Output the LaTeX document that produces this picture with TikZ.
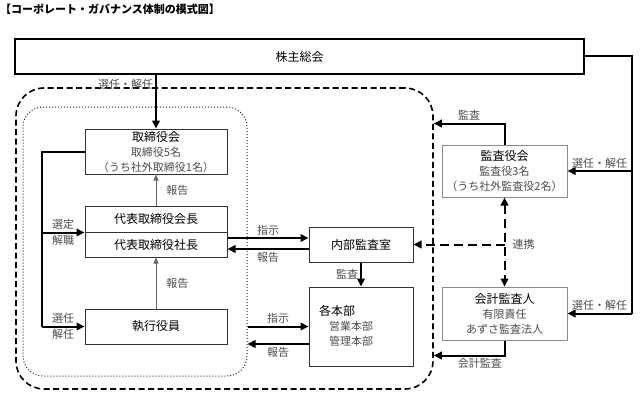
\documentclass[tikz,border=0pt]{standalone}
\usepackage{fontspec}
\setmainfont{Noto Sans CJK JP}
\usetikzlibrary{arrows.meta}
\newcommand{\minor}[1]{{\fontsize{11}{15}\selectfont\color{black!70}#1}}

\begin{document}
\begin{tikzpicture}[
        x=1pt, y=-1pt,
        every node/.style={font=\fontsize{12}{15}\selectfont},
        unit/.style={rectangle, draw=black!80, line width=1pt, fill=white, minimum width=142pt, inner sep=0pt, align=center},
        auditbox/.style={unit, draw=black!45, minimum width=125pt},
        firmline/.style={rectangle, draw=black, line width=1.6pt, dash pattern=on 6pt off 3.5pt, rounded corners=28pt, inner sep=0pt},
        boardline/.style={rectangle, draw=black!85, line width=1pt, dash pattern=on 1pt off 2pt, rounded corners=20pt, inner sep=0pt},
        lbl/.style={text=black!70, inner sep=2pt, font=\fontsize{11}{14}\selectfont},
        arrow/.style={-{Triangle[length=8pt,width=7.5pt]}, line width=2pt, draw=black},
        thinarrow/.style={-{Triangle[length=6pt,width=5pt]}, line width=0.7pt, draw=black!60},
        link/.style={{Triangle[length=8pt,width=7.5pt]}-{Triangle[length=8pt,width=7.5pt]}, line width=2pt, dash pattern=on 9pt off 5pt}
        ]

        \useasboundingbox (0, 0) rectangle (640, 396);

        % Title
        \node[anchor=west, inner sep=0pt, font=\fontsize{11}{14}\selectfont\bfseries] (title) at (0, 9) {【コーポレート・ガバナンス体制の模式図】};

        % Company (dashed) and board area (dotted)
        \node[firmline, minimum width=417pt, minimum height=301pt] (firm) at (224.5, 238.5) {};
        \node[boardline, minimum width=224pt, minimum height=269pt] (exboard) at (135, 241.5) {};

        % Shareholders
        \node[unit, draw=black, line width=1.8pt, minimum width=569pt, minimum height=35pt] (gm) at (299.5, 56.5) {株主総会};

        % Board side (left)
        \node[unit, minimum height=45pt] (board) at (156, 151.5) {取締役会\\\minor{取締役5名}\\\minor{（うち社外取締役1名）}};
        \node[unit, minimum height=26pt] (chair) at (156, 219) {代表取締役会長};
        \node[unit, minimum height=25pt] (pres) at (156, 244.5) {代表取締役社長};
        \node[unit, minimum height=35pt] (exec) at (156, 326.5) {執行役員};

        % Internal audit and divisions (middle)
        \node[unit, minimum width=104pt, minimum height=35pt] (iaud) at (361, 244.5) {内部監査室};
        \node[unit, minimum width=104pt, minimum height=79pt] (div) at (361, 326.5) {};
        \node[anchor=north west, align=left, inner sep=0pt] (divtext) at (319, 305) {各本部\\\hspace{10pt}\minor{営業本部}\\\hspace{10pt}\minor{管理本部}};

        % Auditors (right)
        \node[auditbox, minimum height=52pt] (kansa) at (504.5, 171) {監査役会\\\minor{監査役3名}\\\minor{（うち社外監査役2名）}};
        \node[auditbox, minimum height=53pt] (acct) at (504.5, 313.5) {会計監査人\\\minor{有限責任}\\\minor{あずさ監査法人}};

        % Shareholders' appointments
        \draw[arrow] (gm.south -| board.north) -- node[lbl, left, pos=0.17] {選任・解任} (board.north);
        \draw[line width=2pt] (gm.east) -- ++(47, 0) coordinate (g1) -- (g1 |- acct.east);
        \draw[arrow] (g1 |- acct.east) -- node[lbl, above] {選任・解任} (acct.east);
        \draw[arrow] (g1 |- kansa.east) -- node[lbl, above] {選任・解任} (kansa.east);

        % Board appointments
        \draw[line width=2pt] (board.west) -- ++(-43, 0) coordinate (b1) -- (b1 |- exec.west);
        \draw[arrow] (b1 |- chair.south west) -- node[lbl, above] {選定} node[lbl, below] {解職} (chair.south west);
        \draw[arrow] (b1 |- exec.west) -- node[lbl, above] {選任} node[lbl, below] {解任} (exec.west);

        % Reports upward
        \draw[thinarrow] (chair.north) -- node[lbl, right=8pt] {報告} (board.south);
        \draw[thinarrow] (exec.north) -- node[lbl, right=8pt] {報告} (pres.south);

        % Instructions and reports
        \draw[arrow] ([yshift=6.5pt]pres.east) -- node[lbl, above] {指示} ([yshift=6.5pt]iaud.west);
        \draw[arrow] ([yshift=-4.5pt]iaud.west) -- node[lbl, below] {報告} ([yshift=-4.5pt]pres.east);
        \draw[arrow] (exboard.east |- div.west) -- node[lbl, above] {指示} (div.west);
        \path ([yshift=-17.5pt]div.west) coordinate (d1);
        \draw[arrow] (d1) -- node[lbl, below] {報告} (d1 -| exboard.east);
        \draw[arrow] (iaud.south) -- node[lbl, left] {監査} (div.north);

        % Audits
        \draw[arrow] (kansa.north) -- ++(0, -21) coordinate (k1) -- node[lbl, above] {監査} (k1 -| firm.east);
        \draw[arrow] (acct.south) -- ++(0, 15) coordinate (a1) -- node[lbl, below, pos=0.35] {会計監査} (a1 -| firm.east);

        % Cooperation
        \draw[link] (kansa.south) -- (acct.north);
        \draw[link, {}-{Triangle[length=8pt,width=7.5pt]}] (iaud.east -| kansa.south) -- (iaud.east);
        \node[lbl, anchor=west] (coop) at ([xshift=6pt]iaud.east -| kansa.south) {連携};

    \end{tikzpicture}
\end{document}
